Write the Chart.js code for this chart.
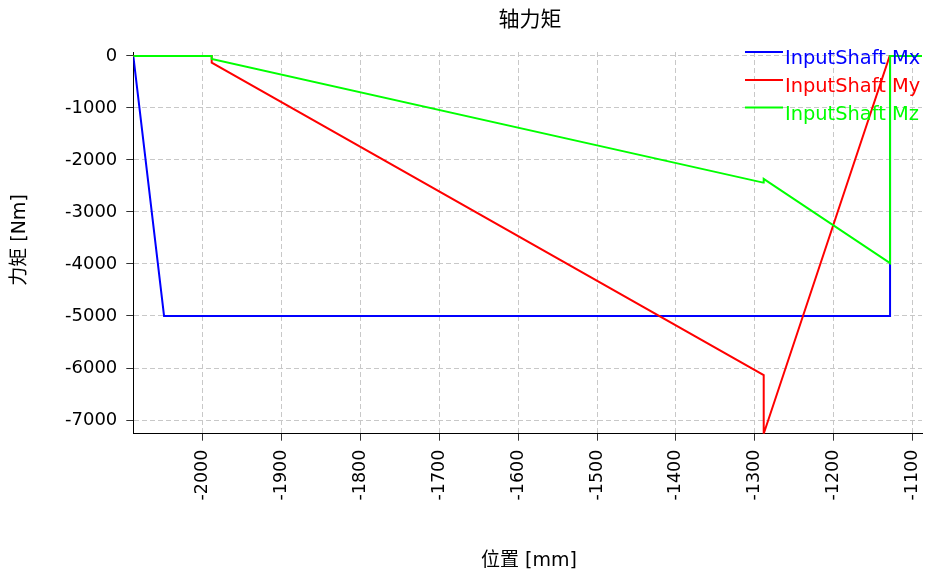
<!DOCTYPE html>
<html>
<head>
<meta charset="utf-8">
<script src="https://cdn.jsdelivr.net/npm/chart.js@4.4.0/dist/chart.umd.min.js"></script>
<style>
  html, body { margin: 0; padding: 0; background: #ffffff; }
  #wrap { width: 927px; height: 580px; }
</style>
</head>
<body>
<div id="wrap"><canvas id="c" width="927" height="580"></canvas></div>
<script>
// Shaft moment along the axial position (mm) for the input shaft.
const positionsMx = [-2088, -2049, -1128.5, -1128.5, -1088];
const momentMx    = [0, -5000, -5000, 0, 0];

const positionsMy = [-2088, -1988.6, -1988.6, -1288.7, -1288.7, -1129, -1088];
const momentMy    = [0, 0, -130, -6135, -7263, 0, 0];

const positionsMz = [-2088, -1988.6, -1988.6, -1289.4, -1288.7, -1128.5, -1128.5, -1088];
const momentMz    = [0, 0, -60, -2436, -2365, -3985, 0, 0];

const seriesNames  = ['InputShaft Mx', 'InputShaft My', 'InputShaft Mz'];
const seriesColors = ['#0000ff', '#ff0000', '#00ff00'];

const xTicks = [-2000, -1900, -1800, -1700, -1600, -1500, -1400, -1300, -1200, -1100];
const yTicks = [0, -1000, -2000, -3000, -4000, -5000, -6000, -7000];

const chartTitle = '轴力矩';
const xTitle = '位置 [mm]';
const yTitle = '力矩 [Nm]';

const toPoints = (xs, ys) => xs.map((x, i) => ({ x: x, y: ys[i] }));

const FONT = '"DejaVu Sans", "Noto Sans CJK SC", sans-serif';

// Titles and the in-plot legend
const decorations = {
  id: 'decorations',
  afterDraw(chart) {
    const ctx = chart.ctx;
    ctx.save();
    ctx.fillStyle = '#000000';
    ctx.textAlign = 'center';
    ctx.textBaseline = 'middle';
    ctx.font = '21px ' + FONT;
    ctx.fillText(chartTitle, 530, 21);
    ctx.font = '19px ' + FONT;
    ctx.fillText(xTitle, 529, 561);
    ctx.save();
    ctx.translate(20, 240);
    ctx.rotate(-Math.PI / 2);
    ctx.fillText(yTitle, 0, 0);
    ctx.restore();

    // legend
    ctx.textAlign = 'left';
    ctx.textBaseline = 'alphabetic';
    ctx.font = '19.4px ' + FONT;
    const rows = [52, 80, 107.5];
    seriesNames.forEach((name, i) => {
      ctx.strokeStyle = seriesColors[i];
      ctx.lineWidth = 2;
      ctx.beginPath();
      ctx.moveTo(745, rows[i]);
      ctx.lineTo(783, rows[i]);
      ctx.stroke();
      ctx.fillStyle = seriesColors[i];
      ctx.fillText(name, 785, rows[i] + 12);
    });
    ctx.restore();
  }
};

const gridStyle = { color: '#c8c8c8', lineWidth: 1, tickColor: '#333333', tickLength: 7 };

new Chart(document.getElementById('c'), {
  type: 'line',
  data: {
    datasets: [
      { label: seriesNames[0], data: toPoints(positionsMx, momentMx), borderColor: seriesColors[0], order: 2 },
      { label: seriesNames[1], data: toPoints(positionsMy, momentMy), borderColor: seriesColors[1], order: 1 },
      { label: seriesNames[2], data: toPoints(positionsMz, momentMz), borderColor: seriesColors[2], order: 0 }
    ]
  },
  options: {
    responsive: false,
    animation: false,
    devicePixelRatio: 1,
    layout: { padding: { top: 52, right: 5, left: 0, bottom: 0 } },
    elements: {
      line: { borderWidth: 2, tension: 0, fill: false },
      point: { radius: 0, hoverRadius: 0 }
    },
    plugins: {
      legend: { display: false },
      title: { display: false },
      tooltip: { enabled: false }
    },
    scales: {
      x: {
        type: 'linear',
        min: -2088,
        max: -1088,
        grid: gridStyle,
        border: { display: true, color: '#000000', width: 1, dash: [5, 3] },
        ticks: {
          color: '#000000',
          font: { family: FONT, size: 17.5 },
          minRotation: 90,
          maxRotation: 90,
          padding: 9,
          autoSkip: false,
          callback: (v) => String(v)
        },
        afterBuildTicks: (scale) => { scale.ticks = xTicks.map(v => ({ value: v })); },
        afterFit: (scale) => {
          scale.height = 580 - 433.7;
          scale.paddingLeft = 0; scale.paddingRight = 0;
        }
      },
      y: {
        type: 'linear',
        min: -7263,
        max: 75,
        grid: gridStyle,
        border: { display: true, color: '#000000', width: 1, dash: [5, 3] },
        ticks: {
          color: '#000000',
          font: { family: FONT, size: 18 },
          padding: 9,
          autoSkip: false,
          callback: (v) => String(v)
        },
        afterBuildTicks: (scale) => { scale.ticks = yTicks.map(v => ({ value: v })); },
        afterFit: (scale) => {
          scale.width = 133.3;
          scale.paddingTop = 0; scale.paddingBottom = 0;
        }
      }
    }
  },
  plugins: [decorations]
});
</script>
</body>
</html>
